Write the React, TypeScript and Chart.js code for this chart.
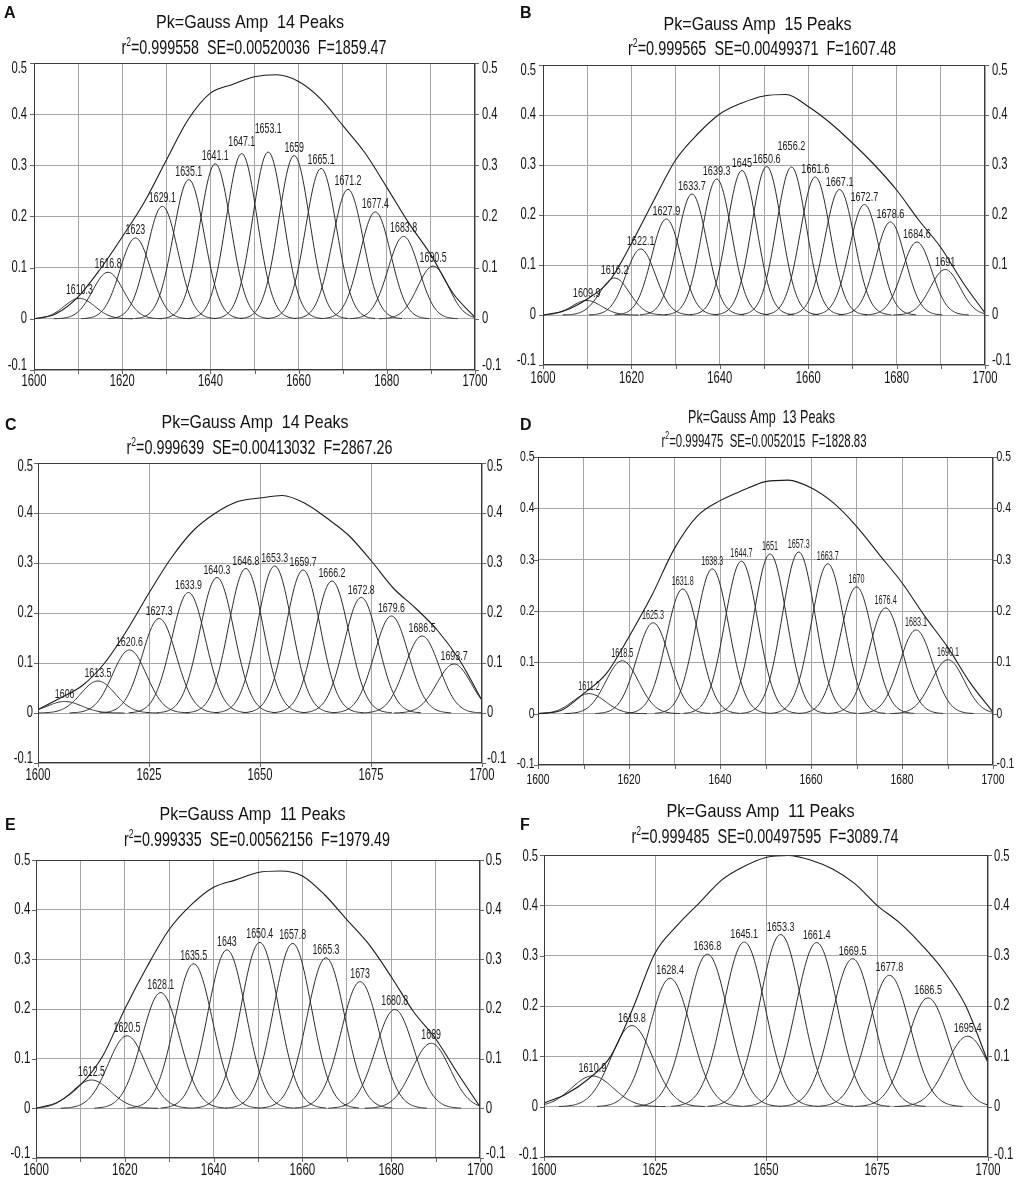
import React, { useEffect, useRef } from "react";
import { Chart, registerables } from "chart.js";

Chart.register(...registerables);

// ---------------- data ----------------
const X_ENVELOPE = [1600, 1605, 1610, 1615, 1620, 1625, 1630, 1635, 1640, 1645, 1650, 1655, 1660, 1665, 1670, 1675, 1680, 1685, 1690, 1695, 1700];
const X_LABELS_BY_20 = [1600, 1620, 1640, 1660, 1680, 1700];
const X_LABELS_BY_25 = [1600, 1625, 1650, 1675, 1700];
const Y_LABELS = [-0.1, 0, 0.1, 0.2, 0.3, 0.4, 0.5];

const R2_VALUES = ["0.999558", "0.999565", "0.999639", "0.999475", "0.999335", "0.999485"];
const SE_VALUES = ["0.00520036", "0.00499371", "0.00413032", "0.0052015", "0.00562156", "0.00497595"];
const F_VALUES = ["1859.47", "1607.48", "2867.26", "1828.83", "1979.49", "3089.74"];

// panel A
const CENTERS_A = [1610.3, 1616.8, 1623, 1629.1, 1635.1, 1641.1, 1647.1, 1653.1, 1659, 1665.1, 1671.2, 1677.4, 1683.8, 1690.5];
const AMPS_A = [0.040, 0.091, 0.158, 0.220, 0.272, 0.303, 0.323, 0.326, 0.319, 0.294, 0.253, 0.209, 0.161, 0.103];
const ENV_A = [0.000, 0.010, 0.043, 0.097, 0.160, 0.228, 0.310, 0.390, 0.441, 0.458, 0.473, 0.477, 0.464, 0.430, 0.378, 0.325, 0.257, 0.187, 0.125, 0.050, 0.003];
const SIGMA_A = 3.5;

// panel B
const CENTERS_B = [1609.9, 1616.2, 1622.1, 1627.9, 1633.7, 1639.3, 1645, 1650.6, 1656.2, 1661.6, 1667.1, 1672.7, 1678.6, 1684.6, 1691];
const AMPS_B = [0.029, 0.074, 0.132, 0.192, 0.242, 0.272, 0.289, 0.297, 0.296, 0.276, 0.251, 0.221, 0.186, 0.146, 0.091];
const ENV_B = [0.000, 0.009, 0.032, 0.068, 0.143, 0.228, 0.310, 0.362, 0.402, 0.424, 0.438, 0.441, 0.417, 0.384, 0.344, 0.300, 0.250, 0.190, 0.135, 0.065, 0.004];
const SIGMA_B = 3.35;

// panel C
const CENTERS_C = [1606, 1613.5, 1620.6, 1627.3, 1633.9, 1640.3, 1646.8, 1653.3, 1659.7, 1666.2, 1672.8, 1679.6, 1686.5, 1693.7];
const AMPS_C = [0.023, 0.064, 0.126, 0.189, 0.241, 0.271, 0.289, 0.294, 0.286, 0.264, 0.231, 0.194, 0.154, 0.098];
const ENV_C = [0.007, 0.030, 0.055, 0.100, 0.165, 0.240, 0.310, 0.365, 0.400, 0.423, 0.430, 0.435, 0.420, 0.390, 0.355, 0.305, 0.250, 0.210, 0.165, 0.105, 0.025];
const SIGMA_C = 3.85;

// panel D
const CENTERS_D = [1611.2, 1618.5, 1625.3, 1631.8, 1638.3, 1644.7, 1651, 1657.3, 1663.7, 1670, 1676.4, 1683.1, 1690.1];
const AMPS_D = [0.039, 0.103, 0.177, 0.243, 0.282, 0.297, 0.311, 0.315, 0.292, 0.247, 0.206, 0.163, 0.105];
const ENV_D = [0.000, 0.006, 0.039, 0.078, 0.150, 0.230, 0.322, 0.385, 0.415, 0.435, 0.452, 0.455, 0.440, 0.410, 0.365, 0.310, 0.255, 0.190, 0.130, 0.060, 0.003];
const SIGMA_D = 3.62;

// panel E
const CENTERS_E = [1612.5, 1620.5, 1628.1, 1635.5, 1643, 1650.4, 1657.8, 1665.3, 1673, 1680.8, 1689];
const AMPS_E = [0.057, 0.146, 0.233, 0.291, 0.319, 0.334, 0.332, 0.303, 0.255, 0.199, 0.131];
const ENV_E = [0.000, 0.013, 0.047, 0.105, 0.200, 0.285, 0.360, 0.410, 0.445, 0.460, 0.475, 0.478, 0.468, 0.430, 0.380, 0.330, 0.265, 0.195, 0.140, 0.070, 0.003];
const SIGMA_E = 4.27;

// panel F
const CENTERS_F = [1610.9, 1619.8, 1628.4, 1636.8, 1645.1, 1653.3, 1661.4, 1669.5, 1677.8, 1686.5, 1695.4];
const AMPS_F = [0.061, 0.161, 0.255, 0.303, 0.327, 0.342, 0.326, 0.294, 0.261, 0.216, 0.140];
const ENV_F = [0.007, 0.025, 0.055, 0.100, 0.195, 0.305, 0.360, 0.405, 0.450, 0.477, 0.495, 0.499, 0.490, 0.472, 0.443, 0.400, 0.366, 0.322, 0.270, 0.200, 0.089];
const SIGMA_F = 4.7;

// ---------------- layout (page coordinates) ----------------
const FONT = '"Liberation Sans", Arial, Helvetica, sans-serif';

type Layout = {
  cell: { x: number; y: number; w: number; h: number };
  plot: { L: number; R: number; T: number; B: number };
  letter: { x: number; by: number };
  title: { cx: number; by: number; size: number; w: number };
  sub: { cx: number; by: number; size: number; w: number };
  tick: { size: number; scale: number; xOff: number; yGap: number; topShift: number; botShift: number };
  peak: { size: number; scale: number };
};

const LAYOUTS: Layout[] = [
  {
    cell: { x: 0, y: 0, w: 510, h: 400 },
    plot: { L: 34, R: 475, T: 63, B: 370 },
    letter: { x: 4, by: 18 },
    title: { cx: 250, by: 28, size: 19, w: 188 },
    sub: { cx: 254, by: 54, size: 20, w: 265 },
    tick: { size: 16, scale: 0.7, xOff: 12, yGap: 7, topShift: 5.7, botShift: -4.3 },
    peak: { size: 14, scale: 0.63 },
  },
  {
    cell: { x: 510, y: 0, w: 511, h: 400 },
    plot: { L: 543, R: 985, T: 65, B: 365 },
    letter: { x: 520, by: 18 },
    title: { cx: 757.5, by: 30, size: 19, w: 188 },
    sub: { cx: 762, by: 55, size: 20, w: 268 },
    tick: { size: 16, scale: 0.7, xOff: 14, yGap: 7, topShift: 5.7, botShift: -4.3 },
    peak: { size: 13, scale: 0.7 },
  },
  {
    cell: { x: 0, y: 400, w: 510, h: 390 },
    plot: { L: 38, R: 482, T: 463, B: 763 },
    letter: { x: 5, by: 430 },
    title: { cx: 255, by: 428, size: 19, w: 187 },
    sub: { cx: 259.5, by: 454, size: 20, w: 266 },
    tick: { size: 16, scale: 0.7, xOff: 13, yGap: 5, topShift: 4, botShift: -4.3 },
    peak: { size: 13, scale: 0.68 },
  },
  {
    cell: { x: 510, y: 400, w: 511, h: 390 },
    plot: { L: 538, R: 993, T: 457, B: 765 },
    letter: { x: 520, by: 430 },
    title: { cx: 761.5, by: 423, size: 18, w: 147 },
    sub: { cx: 764, by: 447, size: 18, w: 205 },
    tick: { size: 14, scale: 0.74, xOff: 15, yGap: 3.5, topShift: 0, botShift: -1 },
    peak: { size: 12, scale: 0.6 },
  },
  {
    cell: { x: 0, y: 790, w: 510, h: 400 },
    plot: { L: 36, R: 480, T: 860, B: 1158 },
    letter: { x: 5, by: 830 },
    title: { cx: 252.5, by: 820, size: 19, w: 186 },
    sub: { cx: 257, by: 846, size: 20, w: 266 },
    tick: { size: 16, scale: 0.72, xOff: 12.5, yGap: 5.7, topShift: 1, botShift: -4.3 },
    peak: { size: 14, scale: 0.63 },
  },
  {
    cell: { x: 510, y: 790, w: 511, h: 400 },
    plot: { L: 544, R: 988, T: 855, B: 1157 },
    letter: { x: 520, by: 830 },
    title: { cx: 760.5, by: 817, size: 19, w: 188 },
    sub: { cx: 765, by: 843, size: 20, w: 267 },
    tick: { size: 16, scale: 0.7, xOff: 14, yGap: 6, topShift: 2, botShift: -2.7 },
    peak: { size: 13, scale: 0.7 },
  },
];

type PanelData = {
  letter: string;
  centers: number[];
  amps: number[];
  env: number[];
  sigma: number;
  xStep: number;
  xLabels: number[];
  r2: string;
  se: string;
  f: string;
  layout: Layout;
};

const PANELS: PanelData[] = [
  { letter: "A", centers: CENTERS_A, amps: AMPS_A, env: ENV_A, sigma: SIGMA_A, xStep: 10, xLabels: X_LABELS_BY_20, r2: R2_VALUES[0], se: SE_VALUES[0], f: F_VALUES[0], layout: LAYOUTS[0] },
  { letter: "B", centers: CENTERS_B, amps: AMPS_B, env: ENV_B, sigma: SIGMA_B, xStep: 10, xLabels: X_LABELS_BY_20, r2: R2_VALUES[1], se: SE_VALUES[1], f: F_VALUES[1], layout: LAYOUTS[1] },
  { letter: "C", centers: CENTERS_C, amps: AMPS_C, env: ENV_C, sigma: SIGMA_C, xStep: 25, xLabels: X_LABELS_BY_25, r2: R2_VALUES[2], se: SE_VALUES[2], f: F_VALUES[2], layout: LAYOUTS[2] },
  { letter: "D", centers: CENTERS_D, amps: AMPS_D, env: ENV_D, sigma: SIGMA_D, xStep: 10, xLabels: X_LABELS_BY_20, r2: R2_VALUES[3], se: SE_VALUES[3], f: F_VALUES[3], layout: LAYOUTS[3] },
  { letter: "E", centers: CENTERS_E, amps: AMPS_E, env: ENV_E, sigma: SIGMA_E, xStep: 10, xLabels: X_LABELS_BY_20, r2: R2_VALUES[4], se: SE_VALUES[4], f: F_VALUES[4], layout: LAYOUTS[4] },
  { letter: "F", centers: CENTERS_F, amps: AMPS_F, env: ENV_F, sigma: SIGMA_F, xStep: 25, xLabels: X_LABELS_BY_25, r2: R2_VALUES[5], se: SE_VALUES[5], f: F_VALUES[5], layout: LAYOUTS[5] },
];

// ---------------- drawing helpers ----------------
function drawScaled(ctx: CanvasRenderingContext2D, text: string, x: number, y: number, font: string, scale: number, align: "left" | "center" | "right", baseline: CanvasTextBaseline) {
  ctx.save();
  ctx.font = font;
  ctx.textAlign = align;
  ctx.textBaseline = baseline;
  ctx.translate(x, y);
  ctx.scale(scale, 1);
  ctx.fillText(text, 0, 0);
  ctx.restore();
}

function fmtY(v: number) {
  if (Math.abs(v) < 1e-9) return "0";
  return String(Math.round(v * 10) / 10);
}

function makePlugin(p: PanelData) {
  const lay = p.layout;
  const ox = lay.cell.x;
  const oy = lay.cell.y;
  return {
    id: "panelDecor" + p.letter,
    afterDatasetsDraw(chart: any) {
      const ctx: CanvasRenderingContext2D = chart.ctx;
      const xs = chart.scales.x;
      const ys = chart.scales.y;
      const area = chart.chartArea;
      // frame
      ctx.save();
      ctx.strokeStyle = "#3a3a3a";
      ctx.lineWidth = 1;
      ctx.strokeRect(Math.round(area.left) + 0.5, Math.round(area.top) + 0.5, Math.round(area.right - area.left) - 1, Math.round(area.bottom - area.top) - 1);
      // tick marks
      ctx.strokeStyle = "#666";
      ctx.beginPath();
      for (let v = 1600; v <= 1700; v += p.xStep) {
        const px = Math.round(xs.getPixelForValue(v)) + 0.5;
        ctx.moveTo(px, area.bottom);
        ctx.lineTo(px, area.bottom + 4);
      }
      for (const v of Y_LABELS) {
        const py = Math.round(ys.getPixelForValue(v)) + 0.5;
        ctx.moveTo(area.left - 4, py);
        ctx.lineTo(area.left, py);
        ctx.moveTo(area.right, py);
        ctx.lineTo(area.right + 4, py);
      }
      ctx.stroke();
      ctx.restore();

      ctx.save();
      ctx.fillStyle = "#111";
      const tf = `${lay.tick.size}px ${FONT}`;
      // x labels
      for (const v of p.xLabels) {
        drawScaled(ctx, String(v), xs.getPixelForValue(v), area.bottom + lay.tick.xOff, tf, lay.tick.scale, "center", "middle");
      }
      // y labels (both sides)
      for (const v of Y_LABELS) {
        let py = ys.getPixelForValue(v);
        if (v >= 0.5 - 1e-9) py += lay.tick.topShift;
        if (v <= -0.1 + 1e-9) py += lay.tick.botShift;
        drawScaled(ctx, fmtY(v), area.left - lay.tick.yGap, py, tf, lay.tick.scale, "right", "middle");
        drawScaled(ctx, fmtY(v), area.right + lay.tick.yGap, py, tf, lay.tick.scale, "left", "middle");
      }

      // peak labels with simple collision avoidance
      const pf = `${lay.peak.size}px ${FONT}`;
      ctx.font = pf;
      const placed: { l: number; r: number; t: number; b: number }[] = [];
      const h = lay.peak.size * 0.74;
      p.centers.forEach((c, i) => {
        const text = String(c);
        const px = xs.getPixelForValue(c);
        const py = ys.getPixelForValue(p.amps[i]);
        ctx.font = pf;
        const w = ctx.measureText(text).width * lay.peak.scale;
        let base = py - 4;
        let moved = true;
        let guard = 0;
        while (moved && guard < 50) {
          moved = false;
          guard++;
          for (const b of placed) {
            const l = px - w / 2, r = px + w / 2, t = base - h;
            if (l < b.r + 0.5 && r > b.l - 0.5 && t < b.b + 1 && base > b.t - 1) {
              base = b.t - 3;
              moved = true;
            }
          }
        }
        placed.push({ l: px - w / 2, r: px + w / 2, t: base - h, b: base });
        ctx.fillStyle = "#1a1a1a";
        drawScaled(ctx, text, px, base, pf, lay.peak.scale, "center", "alphabetic");
      });
      ctx.restore();
    },
    afterDraw(chart: any) {
      const ctx: CanvasRenderingContext2D = chart.ctx;
      ctx.save();
      ctx.fillStyle = "#111";
      // panel letter
      drawScaled(ctx, p.letter, lay.letter.x - ox, lay.letter.by - oy, `bold 16px ${FONT}`, 1.0, "left", "alphabetic");
      // title
      const titleText = `Pk=Gauss Amp  ${p.centers.length} Peaks`;
      const titleFont = `${lay.title.size}px ${FONT}`;
      ctx.font = titleFont;
      const tw = ctx.measureText(titleText).width;
      drawScaled(ctx, titleText, lay.title.cx - ox - lay.title.w / 2, lay.title.by - oy, titleFont, lay.title.w / tw, "left", "alphabetic");
      // subtitle with superscript
      const s = lay.sub.size;
      const mainFont = `${s}px ${FONT}`;
      const supFont = `${Math.round(s * 0.62)}px ${FONT}`;
      const rest = `=${p.r2}  SE=${p.se}  F=${p.f}`;
      ctx.font = mainFont;
      const wr = ctx.measureText("r").width;
      const wrest = ctx.measureText(rest).width;
      ctx.font = supFont;
      const w2 = ctx.measureText("2").width;
      const total = wr + w2 + wrest;
      const sc = lay.sub.w / total;
      ctx.save();
      ctx.translate(lay.sub.cx - ox - lay.sub.w / 2, lay.sub.by - oy);
      ctx.scale(sc, 1);
      ctx.textAlign = "left";
      ctx.textBaseline = "alphabetic";
      ctx.font = mainFont;
      ctx.fillText("r", 0, 0);
      ctx.font = supFont;
      ctx.fillText("2", wr, -s * 0.42);
      ctx.font = mainFont;
      ctx.fillText(rest, wr + w2, 0);
      ctx.restore();
      ctx.restore();
    },
  };
}

function makeConfig(p: PanelData): any {
  const lay = p.layout;
  const datasets: any[] = [];
  datasets.push({
    data: X_ENVELOPE.map((x, i) => ({ x, y: p.env[i] })),
    borderColor: "#1c1c1c",
    borderWidth: 1.1,
    pointRadius: 0,
    cubicInterpolationMode: "monotone",
    fill: false,
  });
  p.centers.forEach((c, i) => {
    const a = p.amps[i];
    const s = p.sigma;
    const lo = Math.max(1600, c - 3.5 * s);
    const hi = Math.min(1700, c + 3.5 * s);
    const pts: { x: number; y: number }[] = [];
    for (let x = lo; x < hi; x += 0.25) pts.push({ x, y: a * Math.exp(-((x - c) * (x - c)) / (2 * s * s)) });
    pts.push({ x: hi, y: a * Math.exp(-((hi - c) * (hi - c)) / (2 * s * s)) });
    datasets.push({
      data: pts,
      borderColor: "#2b2b2b",
      borderWidth: 1,
      pointRadius: 0,
      tension: 0,
      fill: false,
    });
  });

  const gridCommon = { color: "#a6a6a6", lineWidth: 1, drawTicks: false };
  return {
    type: "line",
    data: { datasets },
    options: {
      animation: false,
      responsive: false,
      maintainAspectRatio: false,
      events: [],
      parsing: false,
      layout: {
        padding: {
          left: lay.plot.L - lay.cell.x,
          right: lay.cell.x + lay.cell.w - lay.plot.R,
          top: lay.plot.T - lay.cell.y,
          bottom: lay.cell.y + lay.cell.h - lay.plot.B,
        },
      },
      plugins: { legend: { display: false }, tooltip: { enabled: false }, title: { display: false } },
      scales: {
        x: {
          type: "linear",
          min: 1600,
          max: 1700,
          ticks: { display: false, stepSize: p.xStep },
          grid: gridCommon,
          border: { display: false },
          afterFit: (sc: any) => { sc.height = 0; },
        },
        y: {
          type: "linear",
          position: "left",
          min: -0.1,
          max: 0.5,
          ticks: { display: false, stepSize: 0.1 },
          grid: gridCommon,
          border: { display: false },
          afterFit: (sc: any) => { sc.width = 0; },
        },
      },
    },
    plugins: [makePlugin(p)],
  };
}

function Panel({ p }: { p: PanelData }) {
  const ref = useRef<HTMLCanvasElement | null>(null);
  useEffect(() => {
    if (!ref.current) return;
    const chart = new Chart(ref.current, makeConfig(p));
    return () => chart.destroy();
  }, [p]);
  const c = p.layout.cell;
  return (
    <canvas
      ref={ref}
      width={c.w}
      height={c.h}
      style={{ position: "absolute", left: c.x, top: c.y, width: c.w, height: c.h }}
    />
  );
}

export default function App() {
  return (
    <div style={{ position: "absolute", left: 0, top: 0, width: 1021, height: 1190, background: "#fff", overflow: "hidden" }}>
      {PANELS.map((p) => (
        <Panel key={p.letter} p={p} />
      ))}
    </div>
  );
}
